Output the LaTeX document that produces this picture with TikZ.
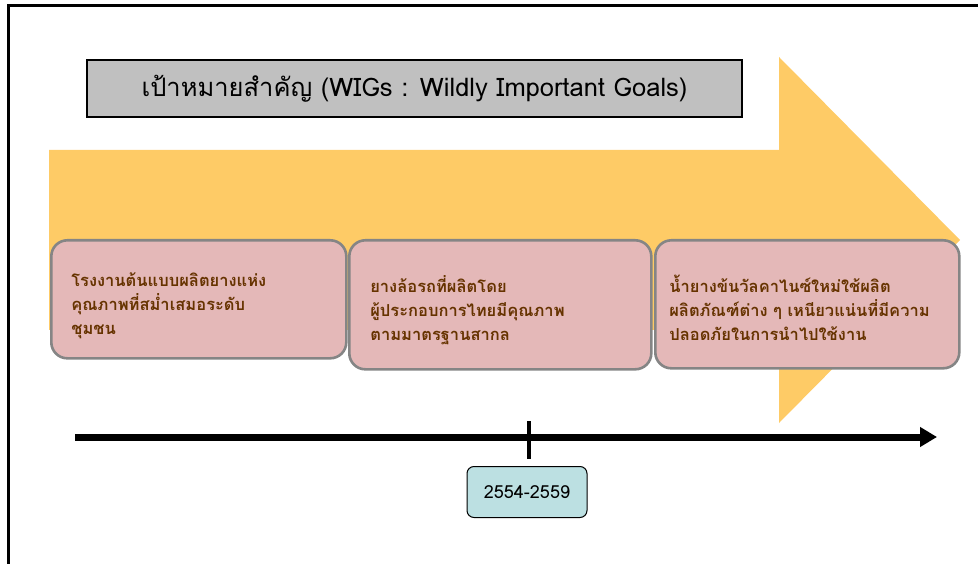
\documentclass[tikz,border=0pt]{standalone}
\usepackage{fontspec}
\usetikzlibrary{arrows.meta}
\newfontfamily\thaifont[Script=Thai]{Loma}
\definecolor{arrowyellow}{HTML}{FECB66}
\definecolor{boxpink}{HTML}{E4B8B8}
\definecolor{boxgray}{HTML}{858585}
\definecolor{textbrown}{HTML}{663300}
\definecolor{titlegray}{HTML}{C0C0C0}
\definecolor{dateblue}{HTML}{BCE0E2}
\tikzset{
  goalbox/.style={draw=boxgray, line width=2.6pt, fill=boxpink, rounded corners=16pt,
    anchor=north west, align=left, text=textbrown, inner ysep=0pt,
    font=\thaifont\bfseries\fontsize{16.5}{24}\selectfont},
  titlebox/.style={draw=black, line width=2pt, fill=titlegray, anchor=north west,
    minimum width=655pt, minimum height=57pt, font=\thaifont\fontsize{25.5}{28}\selectfont},
  datebox/.style={draw=black, line width=1pt, fill=dateblue, rounded corners=7pt,
    minimum width=120pt, minimum height=51pt, font=\thaifont\fontsize{18}{20}\selectfont},
  timeline/.style={line width=7pt, -{Triangle[length=17pt,width=19pt]}},
  tickmark/.style={line width=4.5pt}
}
\begin{document}
\begin{tikzpicture}[x=1pt,y=-1pt]
\useasboundingbox (0,0) rectangle (978,564);
% frame
\draw[line width=3pt] (8.5,564) -- (8.5,5.5) -- (978,5.5);
% big arrow
\fill[arrowyellow] (49,150) -- (779,150) -- (779,57) -- (960,240) -- (779,423)
  -- (779,330) -- (49,330) -- cycle;
% title
\node[titlebox] (title) at (86,59) {เป้าหมายสำคัญ (WIGs : Wildly Important Goals)};
% goal boxes
\node[goalbox, minimum width=295pt, minimum height=118pt, text width=255pt, inner xsep=20pt]
  (g1) at (50,239) {\rule{0pt}{27pt}โรงงานต้นแบบผลิตยางแห่ง\\คุณภาพที่สม่ำเสมอระดับ\\ชุมชน};
\node[goalbox, minimum width=302pt, minimum height=129pt, text width=260pt, inner xsep=21pt]
  (g2) at (348,239) {\rule{0pt}{27pt}ยางล้อรถที่ผลิตโดย\\ผู้ประกอบการไทยมีคุณภาพ\\ตามมาตรฐานสากล};
\node[goalbox, minimum width=304pt, minimum height=128pt, text width=276pt, inner xsep=14pt]
  (g3) at (654,239) {\rule{0pt}{25pt}น้ำยางข้นวัลคาไนซ์ใหม่ใช้ผลิต\\ผลิตภัณฑ์ต่าง ๆ เหนียวแน่นที่มีความ\\ปลอดภัยในการนำไปใช้งาน};
% timeline
\coordinate (tl0) at (75,437);
\coordinate (tl1) at (937,437);
\draw[timeline] (tl0) -- (tl1);
\coordinate (tk0) at (529,421);
\coordinate (tk1) at (529,459);
\draw[tickmark] (tk0) -- (tk1);
% date
\node[datebox] (date) at (527,492) {2554-2559};
\end{tikzpicture}
\end{document}
